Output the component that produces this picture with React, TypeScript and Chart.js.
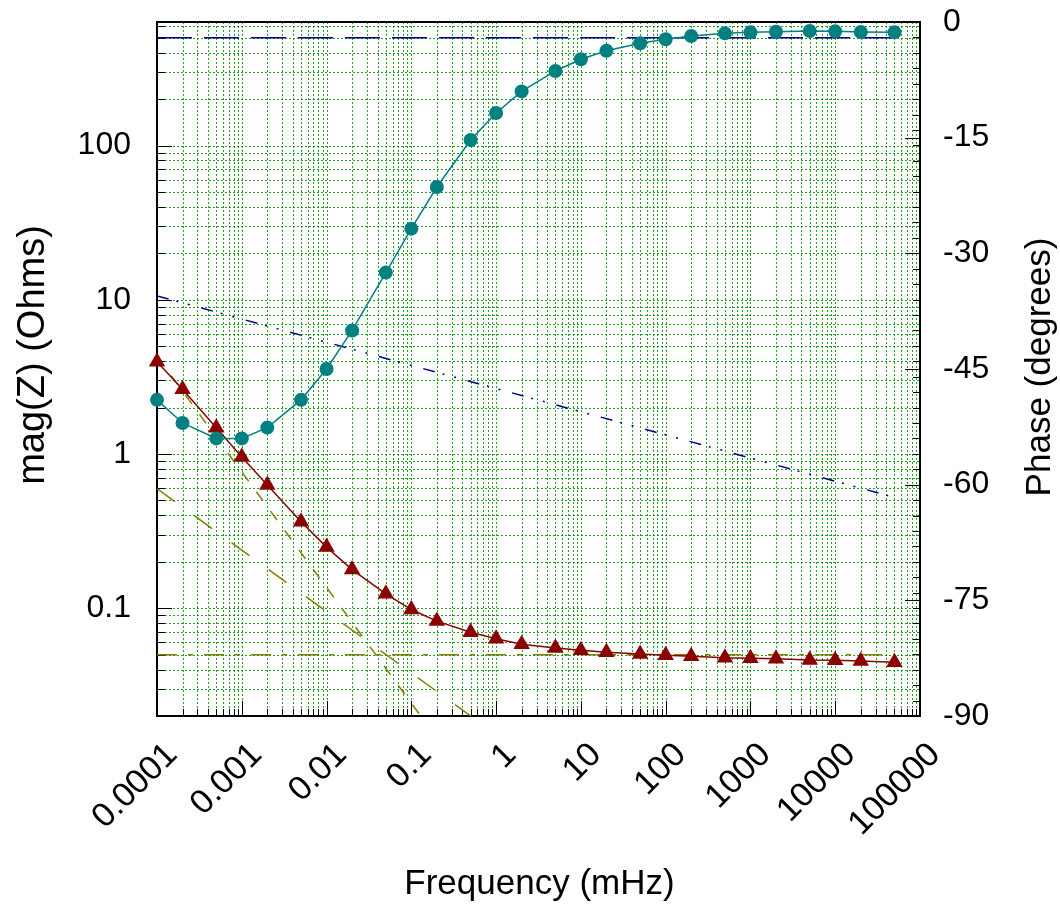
import React, { useEffect, useRef } from 'react';
import { Chart, registerables } from 'chart.js';

Chart.register(...registerables);

// ---- data ----
const FREQ_MHZ = [1e-4, 2e-4, 5e-4, 1e-3, 2e-3, 5e-3, 0.01, 0.02, 0.05, 0.1, 0.2, 0.5, 1, 2, 5, 10, 20, 50, 100, 200, 500, 1000, 2000, 5000, 1e4, 2e4, 5e4];
const MAG_OHMS = [3.96, 2.63, 1.48, 0.956, 0.629, 0.363, 0.249, 0.178, 0.124, 0.098, 0.0825, 0.0698, 0.0634, 0.0583, 0.0552, 0.0534, 0.0518, 0.0504, 0.0495, 0.0488, 0.0477, 0.0473, 0.047, 0.0462, 0.046, 0.0455, 0.0446];
const PHASE_DEG = [-49.0, -52.0, -54.0, -54.0, -52.6, -49.0, -45.0, -40.0, -32.5, -26.8, -21.4, -15.3, -11.8, -9.0, -6.35, -4.84, -3.72, -2.76, -2.24, -1.82, -1.47, -1.34, -1.26, -1.17, -1.21, -1.3, -1.34];

// asymptote / guide lines (end points)
const HF_LIMIT_X = [1e-4, 5e4];
const HF_LIMIT_Y = [0.05, 0.05];
const STEEP_X = [1e-4, 0.2];
const STEEP_Y = [4.3, 0.0144];
const SHALLOW_X = [1e-4, 1];
const SHALLOW_Y = [0.596, 0.0152];
const TOP_LEVEL_X = [1e-4, 5e4];
const TOP_LEVEL_Y = [500, 500];
const SLOPE_X = [1e-4, 5e4];
const SLOPE_Y = [10.6, 0.523];

// ---- axes ----
const X_TICK_VALUES = [1e-4, 1e-3, 1e-2, 1e-1, 1, 10, 100, 1000, 1e4, 1e5];
const X_TICK_LABELS = ['0.0001', '0.001', '0.01', '0.1', '1', '10', '100', '1000', '10000', '100000'];
const Y_TICK_VALUES = [0.1, 1, 10, 100];
const Y_TICK_LABELS = ['0.1', '1', '10', '100'];
const PHASE_TICK_LABELS = ['-90', '-75', '-60', '-45', '-30', '-15', '0'];
const X_MIN = 1e-4, X_MAX = 1e5;
const Y_MIN = 0.02, Y_MAX = 632.5;
const P_MIN = -90, P_MAX = 0;

const FONT = "'Liberation Sans', Arial, Helvetica, sans-serif";
const TEAL = '#008080';
const DARKRED = '#8b0000';
const NAVY = '#00008b';
const OLIVE = '#808000';
const GRID = 'rgba(0,140,0,0.85)';

const xy = (xs: number[], ys: number[]) => xs.map((x, i) => ({ x, y: ys[i] }));

function logSteps(min: number, max: number) {
  const out: { v: number; major: boolean }[] = [];
  for (let e = -6; e <= 6; e++) {
    for (let m = 1; m <= 9; m++) {
      const v = m * Math.pow(10, e);
      if (v >= min * 0.9999 && v <= max * 1.0001) out.push({ v, major: m === 1 });
    }
  }
  return out;
}

const framePlugin = {
  id: 'gnuframe',
  beforeDatasetsDraw(chart: any) {
    const { ctx, chartArea: a, scales } = chart;
    const sx = scales.x, sy = scales.y, sp = scales.y2;
    const L = Math.round(a.left), R = Math.round(a.right), T = Math.round(a.top), B = Math.round(a.bottom);
    ctx.save();
    // grid
    ctx.strokeStyle = GRID;
    ctx.lineWidth = 1;
    ctx.setLineDash([2, 2]);
    for (const t of logSteps(X_MIN, X_MAX)) {
      const px = Math.round(sx.getPixelForValue(t.v)) + 0.5;
      if (px <= L + 1 || px >= R - 1) continue;
      ctx.beginPath(); ctx.moveTo(px, T); ctx.lineTo(px, B); ctx.stroke();
    }
    for (const t of logSteps(Y_MIN, Y_MAX)) {
      const py = Math.round(sy.getPixelForValue(t.v)) + 0.5;
      if (py <= T + 1 || py >= B - 1) continue;
      ctx.beginPath(); ctx.moveTo(L, py); ctx.lineTo(R, py); ctx.stroke();
    }
    ctx.setLineDash([]);
    // ticks (inward)
    ctx.strokeStyle = '#000';
    ctx.lineWidth = 1;
    for (const t of logSteps(X_MIN, X_MAX)) {
      const px = Math.round(sx.getPixelForValue(t.v)) + 0.5;
      const len = t.major ? 15 : 7;
      ctx.beginPath(); ctx.moveTo(px, B); ctx.lineTo(px, B - len); ctx.stroke();
    }
    for (const t of logSteps(Y_MIN, Y_MAX)) {
      const py = Math.round(sy.getPixelForValue(t.v)) + 0.5;
      const len = t.major ? 15 : 8;
      ctx.beginPath(); ctx.moveTo(L, py); ctx.lineTo(L + len, py); ctx.stroke();
    }
    for (let p = P_MIN; p <= P_MAX; p += 2) {
      const py = Math.round(sp.getPixelForValue(p)) + 0.5;
      ctx.beginPath(); ctx.moveTo(R, py); ctx.lineTo(R - 7, py); ctx.stroke();
    }
    for (let p = P_MIN; p <= P_MAX; p += 15) {
      const py = Math.round(sp.getPixelForValue(p)) + 0.5;
      ctx.beginPath(); ctx.moveTo(R, py); ctx.lineTo(R - 15, py); ctx.stroke();
    }
    // border
    ctx.lineWidth = 2;
    ctx.strokeRect(L, T, R - L, B - T);
    ctx.restore();
  },
  afterDraw(chart: any) {
    const { ctx } = chart;
    ctx.save();
    ctx.fillStyle = '#000';
    ctx.textAlign = 'center';
    ctx.textBaseline = 'middle';
    ctx.font = `35px ${FONT}`;
    ctx.fillText('Frequency (mHz)', 539.5, 884);
    ctx.save();
    ctx.translate(1040, 367);
    ctx.rotate(-Math.PI / 2);
    ctx.fillText('Phase (degrees)', 0, 0);
    ctx.restore();
    ctx.font = `38px ${FONT}`;
    ctx.save();
    ctx.translate(34, 355);
    ctx.rotate(-Math.PI / 2);
    ctx.fillText('mag(Z) (Ohms)', 0, 0);
    ctx.restore();
    ctx.restore();
  },
};

export default function App() {
  const ref = useRef<HTMLCanvasElement | null>(null);
  useEffect(() => {
    if (!ref.current) return;
    const tickFont = { family: FONT, size: 32 };
    const chart = new Chart(ref.current, {
      type: 'line',
      data: {
        datasets: [
          {
            label: 'Phase',
            data: xy(FREQ_MHZ, PHASE_DEG),
            yAxisID: 'y2',
            borderColor: TEAL,
            backgroundColor: TEAL,
            borderWidth: 1.5,
            pointStyle: 'circle',
            pointRadius: 7,
            pointBorderWidth: 0,
            tension: 0,
            clip: false,
          },
          {
            label: '|Z|',
            data: xy(FREQ_MHZ, MAG_OHMS),
            yAxisID: 'y',
            borderColor: DARKRED,
            backgroundColor: DARKRED,
            borderWidth: 1.5,
            pointStyle: 'triangle',
            pointRadius: 9.5,
            pointBorderWidth: 0,
            tension: 0,
            clip: false,
          },
          {
            label: 'R high-frequency',
            data: xy(HF_LIMIT_X, HF_LIMIT_Y),
            yAxisID: 'y',
            borderColor: OLIVE,
            borderWidth: 1.5,
            borderDash: [20, 11, 5, 11],
            pointRadius: 0,
          },
          {
            label: 'steep asymptote',
            data: xy(STEEP_X, STEEP_Y),
            yAxisID: 'y',
            borderColor: OLIVE,
            borderWidth: 1.5,
            borderDash: [11, 13],
            pointRadius: 0,
          },
          {
            label: 'shallow asymptote',
            data: xy(SHALLOW_X, SHALLOW_Y),
            yAxisID: 'y',
            borderColor: OLIVE,
            borderWidth: 1.5,
            borderDash: [22, 24],
            pointRadius: 0,
          },
          {
            label: 'top level',
            data: xy(TOP_LEVEL_X, TOP_LEVEL_Y),
            yAxisID: 'y',
            borderColor: NAVY,
            borderWidth: 1.5,
            borderDash: [35, 12],
            pointRadius: 0,
          },
          {
            label: 'slope',
            data: xy(SLOPE_X, SLOPE_Y),
            yAxisID: 'y',
            borderColor: NAVY,
            borderWidth: 1.5,
            borderDash: [12, 8, 2, 10, 2, 12],
            pointRadius: 0,
          },
        ],
      },
      options: {
        responsive: false,
        animation: false,
        devicePixelRatio: 1,
        layout: { padding: { top: 22, left: 0, right: 0, bottom: 0 } },
        plugins: { legend: { display: false }, tooltip: { enabled: false }, title: { display: false } },
        scales: {
          x: {
            type: 'logarithmic',
            position: 'bottom',
            min: X_MIN,
            max: X_MAX,
            bounds: 'data',
            grid: { display: false, drawTicks: false },
            border: { display: false },
            afterBuildTicks: (s: any) => { s.ticks = X_TICK_VALUES.map((v) => ({ value: v, major: true })); },
            afterFit: (s: any) => { s.height = 189; s.paddingLeft = 0; s.paddingRight = 0; s.paddingTop = 0; s.paddingBottom = 0; },
            ticks: {
              autoSkip: false,
              minRotation: 45,
              maxRotation: 45,
              padding: 19,
              labelOffset: 15,
              color: '#000',
              font: { family: FONT, size: 34 },
              callback: (_v: any, i: number) => X_TICK_LABELS[i],
            },
          },
          y: {
            type: 'logarithmic',
            position: 'left',
            min: Y_MIN,
            max: Y_MAX,
            bounds: 'data',
            grid: { display: false, drawTicks: false },
            border: { display: false },
            afterBuildTicks: (s: any) => { s.ticks = Y_TICK_VALUES.map((v) => ({ value: v, major: true })); },
            afterFit: (s: any) => { s.width = 157; s.paddingTop = 0; s.paddingBottom = 0; },
            ticks: {
              autoSkip: false,
              padding: 26,
              color: '#000',
              font: tickFont,
              callback: (_v: any, i: number) => Y_TICK_LABELS[i],
            },
          },
          y2: {
            type: 'linear',
            position: 'right',
            min: P_MIN,
            max: P_MAX,
            grid: { display: false, drawTicks: false },
            border: { display: false },
            afterFit: (s: any) => { s.width = 140; s.paddingTop = 0; s.paddingBottom = 0; },
            ticks: {
              stepSize: 15,
              autoSkip: false,
              padding: 23,
              color: '#000',
              font: tickFont,
              callback: (_v: any, i: number) => PHASE_TICK_LABELS[i],
            },
          },
        },
      },
      plugins: [framePlugin],
    } as any);
    return () => chart.destroy();
  }, []);
  return (
    <div style={{ position: 'absolute', left: 0, top: 0, width: 1060, height: 905, background: '#fff' }}>
      <canvas ref={ref} width={1060} height={905} style={{ display: 'block' }} />
    </div>
  );
}
